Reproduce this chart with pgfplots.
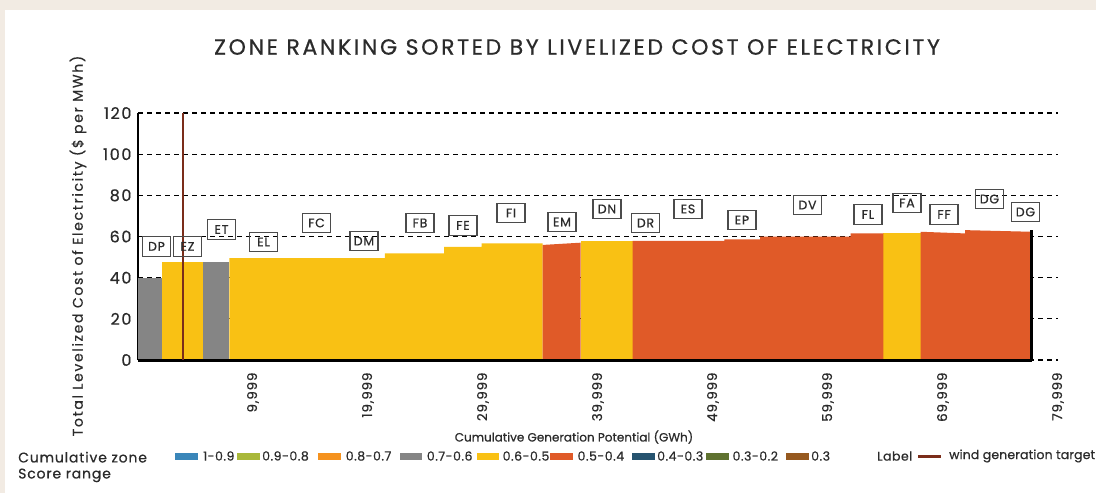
\documentclass[border=0pt]{standalone}
\usepackage{pgfplots}
\pgfplotsset{compat=1.18}
\usepackage{fontspec}
\setmainfont{Poppins}[FakeBold=0.6]

\definecolor{bgc}{HTML}{F2EBE3}
\definecolor{txt}{HTML}{2B2B2B}
\definecolor{c1}{HTML}{3A86B9}
\definecolor{c2}{HTML}{A9B83A}
\definecolor{c3}{HTML}{F5921E}
\definecolor{c4}{HTML}{858585}
\definecolor{c5}{HTML}{F9C114}
\definecolor{c6}{HTML}{E05A28}
\definecolor{c7}{HTML}{26536F}
\definecolor{c8}{HTML}{5F7230}
\definecolor{c9}{HTML}{96591F}
\definecolor{wind}{HTML}{7B2D1A}

\newcommand{\fs}[2]{\fontsize{#1}{#1}\selectfont\addfontfeatures{LetterSpace=#2}}

\begin{document}
\begin{tikzpicture}
\begin{scope}[x=1pt,y=-1pt]
  \useasboundingbox (0,0) rectangle (1096,493);
  \fill[bgc] (0,0) rectangle (1096,493);
  \fill[white] (5,10) rectangle (1096,493);
  \node[font=\fs{22}{12}, text=txt] at (577,47) {ZONE RANKING SORTED BY LIVELIZED COST OF ELECTRICITY};
  \node[font=\fs{14}{12}, text=txt, rotate=90] at (78,246) {Total Levelized Cost of Electricity (\$ per MWh)};
  \node[font=\fs{12}{0}, text=txt] at (574,437) {Cumulative Generation Potential (GWh)};
  % legend
  \node[font=\fs{14}{6}, text=txt, anchor=west, align=left, inner sep=0pt] at (18,467) {Cumulative zone\\[2pt]Score range};
  \foreach \xa/\xb/\xt/\col/\lab in {175/198/203/c1/1-0.9, 237/260/262/c2/0.9-0.8, 318/340.6/345.6/c3/0.8-0.7,
      399.5/422/426.7/c4/0.7-0.6, 476.7/499.3/502.5/c5/0.6-0.5, 550/573/577.4/c6/0.5-0.4,
      632/654.8/657/c7/0.4-0.3, 706/729/732.4/c8/0.3-0.2, 786/809/811/c9/0.3} {
    \fill[\col] (\xa,453) rectangle (\xb,459.5);
    \node[font=\fs{12.5}{4}, text=txt, anchor=west, inner sep=0pt] at (\xt,456) {\lab};
  }
  \node[font=\fs{12.5}{4}, text=txt, anchor=west, inner sep=0pt] at (877,456) {Label};
  \fill[wind] (918,454.5) rectangle (941,458);
  \node[font=\fs{12.5}{1}, text=txt, anchor=west, inner sep=0pt] at (949,456) {wind generation target};
\end{scope}

\begin{axis}[
  at={(138pt,-360pt)}, anchor=origin,
  scale only axis, width=920pt, height=247pt,
  xmin=0, xmax=80000, ymin=0, ymax=120,
  clip=false,
  axis lines*=left,
  x axis line style={draw=none},
  y axis line style={line width=2.5pt, black},
  major tick length=0pt,
  scaled x ticks=false,
  ymajorgrids, grid style={black, line width=1.1pt, dash pattern=on 5pt off 4pt},
  ytick={0,20,40,60,80,100,120},
  yticklabels={0,20,40,60,80,100,120},
  xtick={9999,19999,29999,39999,49999,59999,69999,79999},
  xticklabels={{9,999},{19,999},{29,999},{39,999},{49,999},{59,999},{69,999},{79,999}},
  yticklabel style={font=\fs{16}{10}, text=txt},
  yticklabel shift=3pt,
  xticklabel style={font=\fs{13.5}{6}, text=txt, rotate=90, anchor=east},
  xticklabel shift=9pt,
]
% 0.7-0.6 zones
\addplot[fill=c4, draw=none] coordinates {(0,40) (2061,40)} \closedcycle;
\addplot[fill=c4, draw=none] coordinates {(5652,47.6) (7939,47.6)} \closedcycle;
% 0.6-0.5 zones
\addplot[fill=c5, draw=none] coordinates {(2061,47.6) (5652,47.6)} \closedcycle;
\addplot[fill=c5, draw=none] coordinates {(7939,49.5) (21478,49.5) (21478,51.8) (26609,51.8) (26609,55.0) (29887,55.0) (29887,56.7) (35191,56.7)} \closedcycle;
\addplot[fill=c5, draw=none] coordinates {(38496,57.8) (43017,57.8)} \closedcycle;
\addplot[fill=c5, draw=none] coordinates {(64809,61.9) (68061,61.9)} \closedcycle;
% 0.5-0.4 zones
\addplot[fill=c6, draw=none] coordinates {(35191,55.9) (38496,57.0)} \closedcycle;
\addplot[fill=c6, draw=none] coordinates {(43017,57.9) (50983,57.9) (50983,58.6) (54087,58.6) (54087,59.9) (61974,59.9) (61974,61.5) (64809,61.5)} \closedcycle;
\addplot[fill=c6, draw=none] coordinates {(68061,62.3) (71913,61.5) (71913,63.1) (77713,62.3)} \closedcycle;
% axis frame pieces
\addplot[black, line width=3pt] coordinates {(0,0) (77713,0)};
\addplot[black, line width=2.5pt] coordinates {(77713,0) (77713,63.3)};
% wind generation target
\addplot[wind, line width=2pt] coordinates {(3913,0) (3913,120)};
% zone labels
\tikzset{zl/.style={draw=txt!85, line width=1.2pt, text=txt, minimum width=28pt, minimum height=19.5pt, inner sep=0pt, font=\fs{12.5}{6}}}
\node[zl] at (axis cs:1609,55.2) {DP};
\node[zl] at (axis cs:4304,55.2) {EZ};
\node[zl] at (axis cs:7261,63.4) {ET};
\node[zl] at (axis cs:10913,57.3) {EL};
\node[zl] at (axis cs:15522,66.6) {FC};
\node[zl] at (axis cs:19652,57.8) {DM};
\node[zl] at (axis cs:24522,66.6) {FB};
\node[zl] at (axis cs:28261,65.4) {FE};
\node[zl] at (axis cs:32435,71.4) {FI};
\node[zl] at (axis cs:36870,67.1) {EM};
\node[zl] at (axis cs:40783,73.4) {DN};
\node[zl] at (axis cs:44130,66.6) {DR};
\node[zl] at (axis cs:47826,73.4) {ES};
\node[zl] at (axis cs:52522,68.0) {EP};
\node[zl] at (axis cs:58217,75.3) {DV};
\node[zl] at (axis cs:63478,70.7) {FL};
\node[zl] at (axis cs:66870,76.3) {FA};
\node[zl] at (axis cs:70087,70.7) {FF};
\node[zl] at (axis cs:74043,78.2) {DG};
\node[zl] at (axis cs:77174,71.9) {DG};
\end{axis}
\end{tikzpicture}
\end{document}
